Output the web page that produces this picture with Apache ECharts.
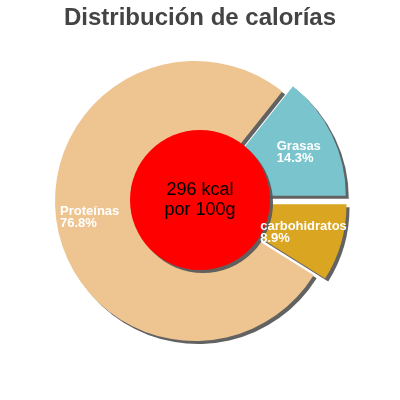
<!DOCTYPE html>
<html>
<head>
<meta charset="utf-8">
<script src="https://cdn.jsdelivr.net/npm/echarts@6/dist/echarts.min.js"></script>
<style>
  html, body { margin: 0; padding: 0; background: #fff; }
  #chart { width: 400px; height: 400px; }
</style>
</head>
<body>
<div id="chart"></div>
<script>
const names = ["Proteínas", "Grasas", "carbohidratos"];
const shares = [76.8, 14.3, 8.9];
const colors = ["#EEC591", "#7AC5CD", "#DAA520"];
const exploded = [false, true, true];
const energyKcal = 296;
const centerText = [energyKcal + " kcal", "por 100g"];

// label nudges from the (unexploded) inside position, per slice; left edge of text
const labelOffsets = [[-62, 4], [17, -17], [-4, 11]];

const font = "'Liberation Sans', Arial, sans-serif";

const chart = echarts.init(document.getElementById("chart"), null, { renderer: "canvas" });

const startAngle = ((shares[0] + shares[1]) / 100) * 360;

const pieBase = {
  type: "pie",
  center: [195, 201],
  radius: [0, 140],
  startAngle,
  clockwise: true,
  avoidLabelOverlap: false,
  silent: true,
  labelLine: { show: false },
};

const shadow = {
  shadowColor: "rgba(90, 90, 90, 0.95)",
  shadowOffsetX: 3,
  shadowOffsetY: 3,
  shadowBlur: 0,
};

chart.setOption({
  animation: false,
  title: {
    text: "Distribución de calorías",
    left: "center",
    top: 1,
    textStyle: { fontFamily: font, fontSize: 24, fontWeight: "bold", color: "#444" },
  },
  series: [
    // slices
    Object.assign({}, pieBase, {
      z: 2,
      selectedMode: "multiple",
      selectedOffset: 12,
      itemStyle: shadow,
      label: { show: false },
      data: names.map((name, i) => ({
        name,
        value: shares[i],
        selected: exploded[i],
        itemStyle: { color: colors[i] },
      })),
    }),
    // red centre disc
    {
      type: "pie",
      center: [200, 200],
      radius: [0, 70],
      silent: true,
      z: 3,
      itemStyle: Object.assign({ color: "#FF0000" }, shadow),
      label: {
        show: true,
        position: "center",
        color: "#000",
        fontFamily: font,
        fontSize: 18,
        lineHeight: 20,
        formatter: centerText.join("\n"),
      },
      labelLine: { show: false },
      data: [{ name: "kcal", value: energyKcal }],
    },
    // slice labels on top of the disc
    Object.assign({}, pieBase, {
      z: 4,
      itemStyle: { color: "rgba(0,0,0,0)" },
      label: {
        show: true,
        position: "inside",
        formatter: (p) => "{t|" + p.name + "}\n{t|" + p.value.toFixed(1) + "%}",
        rich: {
          t: {
            width: 2,
            align: "left",
            color: "#fff",
            fontFamily: font,
            fontSize: 13,
            fontWeight: "bold",
            lineHeight: 12,
          },
        },
      },
      data: names.map((name, i) => ({
        name,
        value: shares[i],
        label: { offset: labelOffsets[i] },
      })),
    }),
  ],
});
</script>
</body>
</html>
